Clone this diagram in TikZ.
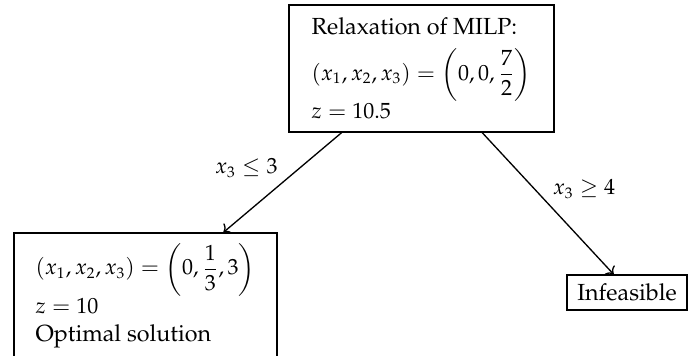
\documentclass[tikz,border=0pt]{standalone}
\usepackage[T1]{fontenc}
\usepackage{mathpazo}
\usepackage{amsmath}
\usetikzlibrary{arrows.meta,calc}
\DeclareMathSizes{10.6}{10}{7}{5}
\tikzset{
  lpbox/.style={draw,semithick,align=left,inner sep=0pt,font=\fontsize{10.6}{12.7}\selectfont},
  cut/.style={font=\fontsize{10.6}{12.7}\selectfont,inner sep=2pt},
  arr/.style={->,semithick}
}

\begin{document}
\begin{tikzpicture}
  \useasboundingbox (0,0) rectangle (11.008,5.696);
  % subproblems
  \node[lpbox,minimum width=4.24cm,minimum height=2.032cm] (relax) at (6.744,4.6)
    {Relaxation of MILP:\\[5pt]
     $(x_1,x_2,x_3)=\left(0,0,\dfrac{7}{2}\right)$\\
     $z=10.5$};
  \node[lpbox,minimum width=4.208cm,minimum height=2.0cm] (opt) at (2.328,0.968)
    {$(x_1,x_2,x_3)=\left(0,\dfrac{1}{3},3\right)$\\
     $z=10$\\
     Optimal solution};
  \node[lpbox,minimum width=1.92cm,minimum height=0.56cm] (infeas) at (10.032,1.016)
    {Infeasible};
  % branching on x_3
  \draw[arr] ($(relax.south west)!0.2!(relax.south east)$)
    -- node[cut,above left] {$x_3\leq 3$} ($(opt.north west)!0.795!(opt.north east)$);
  \draw[arr] ($(relax.south west)!0.728!(relax.south east)$)
    -- node[cut,above right] {$x_3\geq 4$} ($(infeas.north west)!0.39!(infeas.north east)$);
\end{tikzpicture}
\end{document}
